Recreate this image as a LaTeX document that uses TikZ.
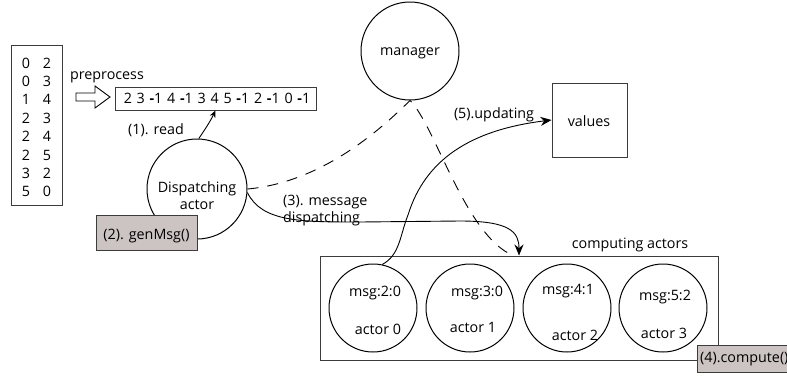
\documentclass[tikz,border=0pt]{standalone}
\usepackage{fontspec}
\setmainfont{Open Sans}
\usetikzlibrary{arrows.meta,calc}
\definecolor{genfill}{RGB}{204,196,194}
\definecolor{boxline}{RGB}{60,60,60}
\begin{document}
\begin{tikzpicture}[x=1pt,y=-1pt,
  every node/.style={font=\fontsize{14.3}{17}\selectfont, inner sep=0pt},
  lbl/.style={},
  ring/.style={draw=black, line width=1pt, circle, minimum size=#1},
  sqbox/.style={draw=boxline, line width=1pt, rectangle},
  graybox/.style={draw=boxline, line width=1pt, fill=genfill, rectangle},
  conn/.style={line width=0.9pt, black},
  bigtip/.style={-{Stealth[length=11pt,width=9pt]}},
  smalltip/.style={-{Stealth[length=7pt,width=6pt]}}
]
\useasboundingbox (0,0) rectangle (787,381);
\clip (0,0) rectangle (787,381);

% left list box
\node[sqbox, minimum width=51pt, minimum height=160pt] (list) at (36.5,125.5) {};
\foreach \a/\b [count=\i from 0] in {0/2,0/3,1/4,2/3,2/4,2/5,3/2,5/0} {
  \node (la\i) at (26,{63+\i*18.4}) {\a};
  \node (lb\i) at (47,{63+\i*18.4}) {\b};
}

% preprocess
\node[lbl] (pre) at (107,77) {preprocess};
\draw[line width=0.9pt] (76,93) -- (95,93) -- (95,86) -- (110,97) -- (95,108) -- (95,101) -- (76,101) -- cycle;

% sequence box
\node[sqbox, minimum width=201pt, minimum height=23pt] (seq) at (215.5,98.5) {};
\node (seqtxt) at (217,98.5) {2\,\,3\,\,\textbf{-}1\,\,4\,\,\textbf{-}1\,\,3\,\,4\,\,5\,\,\textbf{-}1\,\,2\,\,\textbf{-}1\,\,0\,\,\textbf{-}1};

% read label
\node[lbl] (readlbl) at (156,130) {(1). read};

% dispatching actor
\node[ring=100pt] (disp) at (197,189) {};
\node[align=center] (disptxt) at (197,196) {Dispatching\\actor};

% genMsg box
\node[graybox, minimum width=101pt, minimum height=35pt] (gen) at (146.5,232.5) {};
\node (gentxt) at (146.5,236) {(2). genMsg()};

% manager
\node[ring=98pt] (mgr) at (410,51) {};
\node (mgrtxt) at (410,53) {manager};

% values
\node[sqbox, minimum width=75pt, minimum height=74pt] (values) at (589.5,120) {};
\node (valtxt) at (589,121) {values};

% computing actors box
\node[sqbox, minimum width=398pt, minimum height=104pt] (comp) at (519,308) {};
\node (comptxt) at (630,245) {computing actors};

\node[ring=88pt] (a0) at (373,308) {};
\node[ring=88pt] (a1) at (470,308) {};
\node[ring=88pt] (a2) at (567,308) {};
\node[ring=88pt] (a3) at (663,308) {};
\node (m0) at (375,293) {msg:2:0};
\node (t0) at (378,329) {actor 0};
\node (m1) at (477,293) {msg:3:0};
\node (t1) at (473,327) {actor 1};
\node (m2) at (568,291) {msg:4:1};
\node (t2) at (575,335) {actor 2};
\node (m3) at (665,297) {msg:5:2};
\node (t3) at (664,333) {actor 3};

% compute box (clipped at right)
\node[graybox, minimum width=100pt, minimum height=27pt] (cbox) at (747,358.5) {};
\node[anchor=west] (ctxt) at (700,359) {(4).compute()};

% connectors
\draw[conn, smalltip] (disp.88) .. controls (206,128) and (211,120) .. (seq.south);

\draw[conn, dash pattern=on 11pt off 9pt]
  (disp.east) .. controls (325,182) and (385,125) .. (mgr.south)
  .. controls (435,125) and (465,235) .. ($(comp.north)+(-6,0)$);

\draw[conn, bigtip] (disp.-4) .. controls (262,222) and (300,222) .. (360,222)
  -- (460,221) .. controls (510,221) and (519,232) .. (comp.north);

\draw[conn, bigtip] (a0.78) .. controls (400,255) and (400,235) .. (408,215)
  .. controls (425,160) and (470,130) .. (values.west);

% labels
\node[align=left, anchor=west] (msglbl) at (283,211) {(3). message\\dispatching};
\node (updlbl) at (494,115) {(5).updating};
\end{tikzpicture}
\end{document}
